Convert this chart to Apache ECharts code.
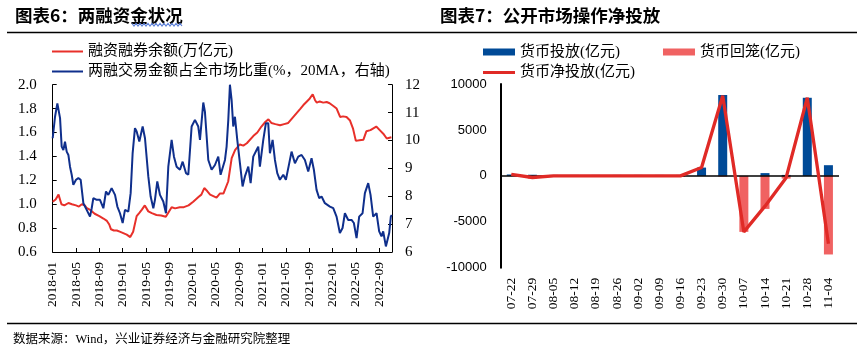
<!DOCTYPE html>
<html>
<head>
<meta charset="utf-8">
<script src="https://cdn.jsdelivr.net/npm/echarts@6/dist/echarts.min.js"></script>
<style>
  html, body { margin: 0; padding: 0; background: #fff; }
  #main { width: 866px; height: 353px; }
</style>
</head>
<body>
<div id="main"></div>
<script>
// ---- 图表6 数据：x 为距 2018-01 的月数 ----
var marginMonth = [0,0.5,1,1.2,1.5,2,2.7,3.3,4,4.5,5,5.5,5.8,6.5,7.2,8,8.7,9.3,9.7,10,10.5,11,11.5,12,12.7,13.3,13.8,14.4,14.9,15.3,15.8,16.4,17,17.8,18.6,19.4,20.4,21,21.8,22.5,23.3,24.1,25,25.5,26,26.5,27,28.1,28.7,29.3,30.1,30.7,31.3,32.1,32.7,33.3,34.4,35.1,35.8,36.5,37,37.5,38.2,39,39.7,40.4,41.1,41.8,42.5,43,43.6,44.1,44.6,45,45.3,45.8,46.4,47,47.5,48.2,48.7,49.3,49.8,50.4,51,51.5,52,52.6,53.3,53.8,54.5,55.5,56.1,56.7,57.3,58.1];
var marginBal = [1.02,1.04,1.08,1.09,1.0,0.99,1.01,1.0,0.99,0.98,1.0,0.99,0.97,0.95,0.92,0.90,0.88,0.86,0.83,0.79,0.78,0.78,0.77,0.76,0.745,0.725,0.77,0.90,0.93,0.955,0.99,0.94,0.925,0.91,0.905,0.895,0.975,0.965,0.975,0.975,0.99,1.02,1.06,1.08,1.135,1.11,1.08,1.055,1.09,1.09,1.19,1.385,1.455,1.50,1.49,1.51,1.57,1.60,1.65,1.69,1.71,1.68,1.67,1.66,1.67,1.68,1.72,1.76,1.80,1.83,1.86,1.885,1.92,1.87,1.85,1.86,1.85,1.855,1.845,1.82,1.80,1.73,1.735,1.73,1.70,1.635,1.53,1.535,1.54,1.61,1.62,1.65,1.62,1.59,1.55,1.56];

var shareMonth = [0,0.4,0.8,1.03,1.26,1.54,1.83,2.11,2.4,2.69,2.97,3.26,3.54,4.0,4.4,4.8,5.26,5.83,6.4,6.69,6.97,7.54,8.11,8.69,9.14,9.54,10.11,10.69,11.09,11.54,12.0,12.4,12.97,13.37,13.71,14.11,14.4,14.86,15.43,15.83,16.4,16.8,17.26,17.54,17.94,18.4,18.97,19.43,19.83,20.4,20.8,21.26,21.83,22.29,22.86,23.26,23.83,24.4,24.97,25.26,25.83,26.11,26.69,27.26,27.83,28.4,28.8,29.55,29.83,30.12,30.4,30.69,30.97,31.26,31.66,32.12,32.57,32.97,33.55,33.95,34.4,34.97,35.26,35.54,36.12,36.57,36.97,37.26,37.72,38.12,38.52,38.97,39.55,40.0,40.57,40.97,41.55,42.12,42.69,43.26,43.83,44.4,44.8,45.26,45.72,46.12,46.69,47.55,48.12,48.69,49.26,49.72,50.12,50.69,51.26,51.66,52.12,52.57,53.15,53.55,54.12,54.52,54.97,55.55,56.0,56.4,56.69,57.15,57.43,57.72,58.0,58.17];
var shareVal = [10.08,10.85,11.33,11.39,10.8,9.78,9.66,9.96,9.6,9.48,9.06,8.77,8.41,8.59,8.65,8.59,7.75,7.51,7.27,7.57,7.93,7.87,7.87,7.57,8.17,8.05,8.29,8.05,7.63,7.39,7.04,7.51,7.45,8.11,9.54,10.44,10.32,9.96,10.5,10.08,8.71,7.99,7.57,7.87,8.53,8.05,7.81,7.39,9.06,10.02,9.42,9.06,8.95,9.24,8.83,8.77,10.5,10.74,10.5,10.02,11.36,11.03,9.3,8.95,9.12,9.42,8.77,9.3,9.78,10.74,12.0,11.45,10.5,10.85,10.02,9.18,8.35,8.71,9.06,8.47,9.42,9.66,9.78,9.06,10.02,10.62,10.62,9.54,10.02,9.3,8.83,8.59,8.77,8.59,9.18,9.6,9.18,9.42,9.48,9.3,8.89,9.36,8.95,8.23,7.93,7.99,7.75,7.63,7.57,7.27,6.68,6.86,7.39,7.15,7.15,7.04,6.5,7.27,7.39,8.11,8.47,8.05,7.27,7.39,6.74,6.56,6.74,6.2,6.14,6.68,7.27,7.33];

// ---- 图表7 数据（亿元）----
var weeks = ['07-22','07-29','08-05','08-12','08-19','08-26','09-02','09-09','09-16','09-23','09-30','10-07','10-14','10-21','10-28','11-04'];
var invest = [150, 120, 100, 100, 100, 100, 100, 100, 100, 900, 8800, 0, 300, 100, 8500, 1160];
var withdraw = [0, -300, -100, -100, -100, -100, -100, -100, -100, 0, -80, -6100, -3600, -300, 0, -8560];
var netInvest = [150, -180, 0, 0, 0, 0, 0, 0, 0, 900, 8720, -6100, -3300, -200, 8500, -7400];

var serif = "'Liberation Serif', 'Noto Sans CJK SC'";
var cjk = "'Noto Sans CJK SC'";

function pairs(xs, ys) {
  return xs.map(function (x, i) { return [x, ys[i]]; });
}
function monthLabel(v) {
  if (Math.abs(v % 4) > 1e-6) return '';
  var y = 2018 + Math.floor(v / 12);
  var m = v % 12 + 1;
  return y + '-' + (m < 10 ? '0' + m : m);
}

// 标题下波浪线（仅装饰）
var wave = [];
for (var wx = 132; wx <= 183; wx += 2) wave.push([wx, (wx / 2) % 2 === 0 ? 23.5 : 26]);

var chart = echarts.init(document.getElementById('main'));
var option = {
  animation: false,
  backgroundColor: '#fff',
  graphic: [
    { type: 'text', left: 15, top: 7, style: { text: '图表6：两融资金状况', font: 'bold 17.5px ' + cjk, fill: '#000' } },
    { type: 'text', left: 440, top: 7, style: { text: '图表7：公开市场操作净投放', font: 'bold 17.5px ' + cjk, fill: '#000' } },
    { type: 'polyline', z: 10, shape: { points: wave }, style: { stroke: '#5b7fd8', lineWidth: 1.2, fill: 'none' } },
    { type: 'line', shape: { x1: 7, y1: 32.5, x2: 857, y2: 32.5 }, style: { stroke: '#000', lineWidth: 1.3 } },
    { type: 'line', shape: { x1: 7, y1: 323.5, x2: 857, y2: 323.5 }, style: { stroke: '#000', lineWidth: 1.3 } },
    { type: 'text', left: 13, top: 333, style: { text: '数据来源：Wind，兴业证券经济与金融研究院整理', font: '12.5px ' + serif, fill: '#000' } }
  ],
  legend: [
    {
      orient: 'vertical', left: 52, top: 44, padding: 0, itemGap: 5,
      itemWidth: 31, itemHeight: 2, icon: 'rect',
      textStyle: { fontFamily: serif, fontSize: 15, color: '#000' },
      data: ['融资融券余额(万亿元)', '两融交易金额占全市场比重(%，20MA，右轴)']
    },
    {
      orient: 'horizontal', left: 483, top: 44.5, padding: 0, itemGap: 43,
      itemWidth: 32, itemHeight: 7, icon: 'rect',
      textStyle: { fontFamily: serif, fontSize: 15, color: '#000' },
      data: ['货币投放(亿元)', '货币回笼(亿元)']
    },
    {
      orient: 'horizontal', left: 483, top: 65, padding: 0,
      itemWidth: 32, itemHeight: 3, icon: 'rect',
      textStyle: { fontFamily: serif, fontSize: 15, color: '#000' },
      data: ['货币净投放(亿元)']
    }
  ],
  grid: [
    { left: 52.7, right: 474, top: 84.7, bottom: 101 },
    { left: 500.7, right: 27, top: 84, bottom: 85.3 }
  ],
  xAxis: [
    {
      type: 'value', gridIndex: 0, min: 0, max: 58.2, interval: 4,
      axisLine: { lineStyle: { color: '#000', width: 1 } },
      axisTick: { inside: true, length: 4, lineStyle: { color: '#000' } },
      splitLine: { show: false },
      axisLabel: { rotate: 90, margin: 10, fontFamily: serif, fontSize: 13.5, color: '#000', formatter: monthLabel, showMaxLabel: false }
    },
    {
      type: 'category', gridIndex: 1, data: weeks,
      axisLine: { show: false }, axisTick: { show: false },
      axisLabel: { rotate: 90, interval: 0, margin: 10, fontFamily: serif, fontSize: 13.5, color: '#000' }
    }
  ],
  yAxis: [
    {
      type: 'value', gridIndex: 0, min: 0.6, max: 2.0, interval: 0.2,
      axisLine: { show: true, lineStyle: { color: '#000', width: 1 } },
      axisTick: { show: true, inside: true, length: 4, lineStyle: { color: '#000' } },
      splitLine: { show: false },
      axisLabel: { margin: 16, fontFamily: serif, fontSize: 15, color: '#000', formatter: function (v) { return v.toFixed(1); } }
    },
    {
      type: 'value', gridIndex: 0, position: 'right', min: 6, max: 12, interval: 1,
      axisLine: { show: true, lineStyle: { color: '#000', width: 1 } },
      axisTick: { show: true, inside: true, length: 4, lineStyle: { color: '#000' } },
      splitLine: { show: false },
      axisLabel: { margin: 13, fontFamily: serif, fontSize: 15, color: '#000' }
    },
    {
      type: 'value', gridIndex: 1, min: -10000, max: 10000, interval: 5000,
      axisLine: { show: true, lineStyle: { color: '#000', width: 2 } },
      axisTick: { show: false },
      splitLine: { show: false },
      axisLabel: { margin: 14, fontFamily: "'Liberation Sans'", fontSize: 13, color: '#000', formatter: function (v) { return String(v); } }
    }
  ],
  series: [
    {
      name: '融资融券余额(万亿元)', type: 'line', xAxisIndex: 0, yAxisIndex: 0,
      symbol: 'none', color: '#e8302a', lineStyle: { width: 2, color: '#e8302a' },
      data: pairs(marginMonth, marginBal)
    },
    {
      name: '两融交易金额占全市场比重(%，20MA，右轴)', type: 'line', xAxisIndex: 0, yAxisIndex: 1,
      symbol: 'none', color: '#0f2f8c', lineStyle: { width: 2, color: '#0f2f8c' },
      data: pairs(shareMonth, shareVal)
    },
    {
      name: '货币投放(亿元)', type: 'bar', xAxisIndex: 1, yAxisIndex: 2, stack: 'omo',
      barWidth: 9, itemStyle: { color: '#004a97' }, data: invest,
      markLine: {
        silent: true, symbol: 'none', label: { show: false },
        lineStyle: { color: '#000', width: 1.6, type: 'solid' },
        data: [{ yAxis: 0 }]
      }
    },
    {
      name: '货币回笼(亿元)', type: 'bar', xAxisIndex: 1, yAxisIndex: 2, stack: 'omo',
      barWidth: 9, itemStyle: { color: '#f06262' }, data: withdraw
    },
    {
      name: '货币净投放(亿元)', type: 'line', xAxisIndex: 1, yAxisIndex: 2, z: 5,
      symbol: 'none', color: '#e02a26', lineStyle: { width: 3.3, color: '#e02a26' },
      data: netInvest
    }
  ]
};
chart.setOption(option);
</script>
</body>
</html>
